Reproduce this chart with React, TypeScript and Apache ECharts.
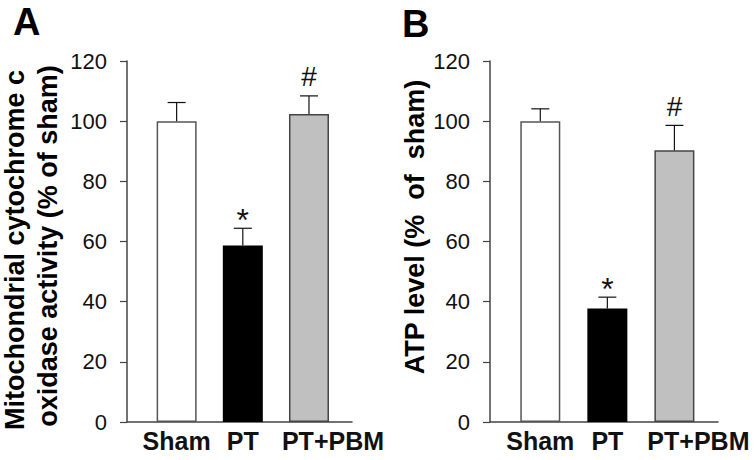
import React, { useEffect, useRef } from "react";
import * as echarts from "echarts";

const categories = ["Sham", "PT", "PT+PBM"];
const coxMean = [100, 58.7, 102.4];
const coxErr = [6.2, 5.7, 6.0];
const atpMean = [100, 37.7, 90.3];
const atpErr = [4.1, 3.8, 8.3];
const coxSig = ["", "*", "#"];
const atpSig = ["", "*", "#"];
const yTicks = [0, 20, 40, 60, 80, 100, 120];

const fills = ["#ffffff", "#000000", "#c0c0c0"];
const borders = ["#555555", "#000000", "#444444"];
const FONT = '"Liberation Sans", Arial, Helvetica, sans-serif';

function makeXAxis(gridIndex: number) {
  return {
    type: "value",
    gridIndex,
    min: 0.25,
    max: 3.65,
    splitLine: { show: false },
    axisTick: { show: false },
    axisLine: { show: true, lineStyle: { color: "#444", width: 1.5 } },
    axisLabel: {
      customValues: [1, 2, 3],
      margin: 6,
      color: "#111",
      fontFamily: FONT,
      fontSize: 25,
      fontWeight: "bold",
      formatter: (val: number) => {
        const i = Math.round(val) - 1;
        const c = categories[i] ?? "";
        return i === 2 ? "{shift|" + c + "}" : c;
      },
      rich: {
        shift: {
          padding: [0, 0, 0, 48],
          fontFamily: FONT,
          fontSize: 25,
          fontWeight: "bold",
          color: "#111",
        },
      },
    },
  };
}

function makeYAxis(gridIndex: number) {
  return {
    type: "value",
    gridIndex,
    min: yTicks[0],
    max: yTicks[yTicks.length - 1],
    interval: 20,
    splitLine: { show: false },
    axisLine: { show: true, lineStyle: { color: "#444", width: 1.5 } },
    axisTick: { show: true, length: 7, lineStyle: { color: "#444", width: 1.2 } },
    axisLabel: { margin: 20, color: "#111", fontFamily: FONT, fontSize: 22 },
  };
}

function barSeries(idx: number, means: number[]) {
  return {
    type: "bar",
    xAxisIndex: idx,
    yAxisIndex: idx,
    barWidth: 40,
    z: 2,
    data: means.map((v, i) => ({
      value: [i + 1, v],
      itemStyle: { color: fills[i], borderColor: borders[i], borderWidth: 1.5 },
    })),
  };
}

function errSeries(idx: number, means: number[], errs: number[], sigs: string[]) {
  return {
    type: "custom",
    xAxisIndex: idx,
    yAxisIndex: idx,
    z: 5,
    encode: { x: 0, y: 1 },
    data: means.map((v, i) => [i + 1, v, errs[i]]),
    renderItem: (params: any, api: any) => {
      const x = api.value(0);
      const v = api.value(1);
      const e = api.value(2);
      const base = api.coord([x, v]);
      const top = api.coord([x, v + e]);
      const sig = sigs[params.dataIndex];
      const children: any[] = [
        {
          type: "line",
          shape: { x1: base[0], y1: base[1], x2: top[0], y2: top[1] },
          style: { stroke: "#111", lineWidth: 1.2 },
        },
        {
          type: "line",
          shape: { x1: top[0] - 9, y1: top[1], x2: top[0] + 9, y2: top[1] },
          style: { stroke: "#111", lineWidth: 1.2 },
        },
      ];
      if (sig) {
        const star = sig === "*";
        children.push({
          type: "text",
          x: top[0],
          y: top[1] + (star ? 8 : -5),
          style: {
            text: sig,
            fontFamily: FONT,
            fontSize: star ? 32 : 28,
            fill: "#111",
            align: "center",
            verticalAlign: "bottom",
          },
        });
      }
      return { type: "group", children };
    },
  };
}

export default function App() {
  const ref = useRef<HTMLDivElement>(null);
  useEffect(() => {
    if (!ref.current) return;
    const chart = echarts.init(ref.current, undefined, { renderer: "svg" });
    const option: any = {
      animation: false,
      backgroundColor: "#ffffff",
      grid: [
        { left: 127, width: 225, top: 61, height: 361, outerBoundsMode: "none" },
        { left: 490, width: 228, top: 61, height: 361, outerBoundsMode: "none" },
      ],
      xAxis: [makeXAxis(0), makeXAxis(1)],
      yAxis: [makeYAxis(0), makeYAxis(1)],
      series: [
        barSeries(0, coxMean),
        errSeries(0, coxMean, coxErr, coxSig),
        barSeries(1, atpMean),
        errSeries(1, atpMean, atpErr, atpSig),
      ],
      graphic: [
        {
          type: "text",
          left: 13,
          top: 3,
          style: { text: "A", fontFamily: FONT, fontSize: 38, fontWeight: "bold", fill: "#000" },
        },
        {
          type: "text",
          left: 402,
          top: 5,
          style: { text: "B", fontFamily: FONT, fontSize: 38, fontWeight: "bold", fill: "#000" },
        },
        {
          type: "text",
          x: 15,
          y: 250,
          rotation: Math.PI / 2,
          style: {
            text: "Mitochondrial cytochrome c",
            fontFamily: FONT,
            fontSize: 27,
            fontWeight: "bold",
            fill: "#000",
            align: "center",
            verticalAlign: "middle",
          },
        },
        {
          type: "text",
          x: 48,
          y: 246,
          rotation: Math.PI / 2,
          style: {
            text: "oxidase activity (% of sham)",
            fontFamily: FONT,
            fontSize: 27,
            fontWeight: "bold",
            fill: "#000",
            align: "center",
            verticalAlign: "middle",
          },
        },
        {
          type: "text",
          x: 415,
          y: 227,
          rotation: Math.PI / 2,
          style: {
            text: "ATP level (%  of  sham)",
            fontFamily: FONT,
            fontSize: 27,
            fontWeight: "bold",
            fill: "#000",
            align: "center",
            verticalAlign: "middle",
          },
        },
      ],
    };
    chart.setOption(option);
    return () => chart.dispose();
  }, []);
  return (
    <div
      ref={ref}
      style={{ position: "fixed", left: 0, top: 0, width: 754, height: 460, background: "#fff" }}
    />
  );
}
